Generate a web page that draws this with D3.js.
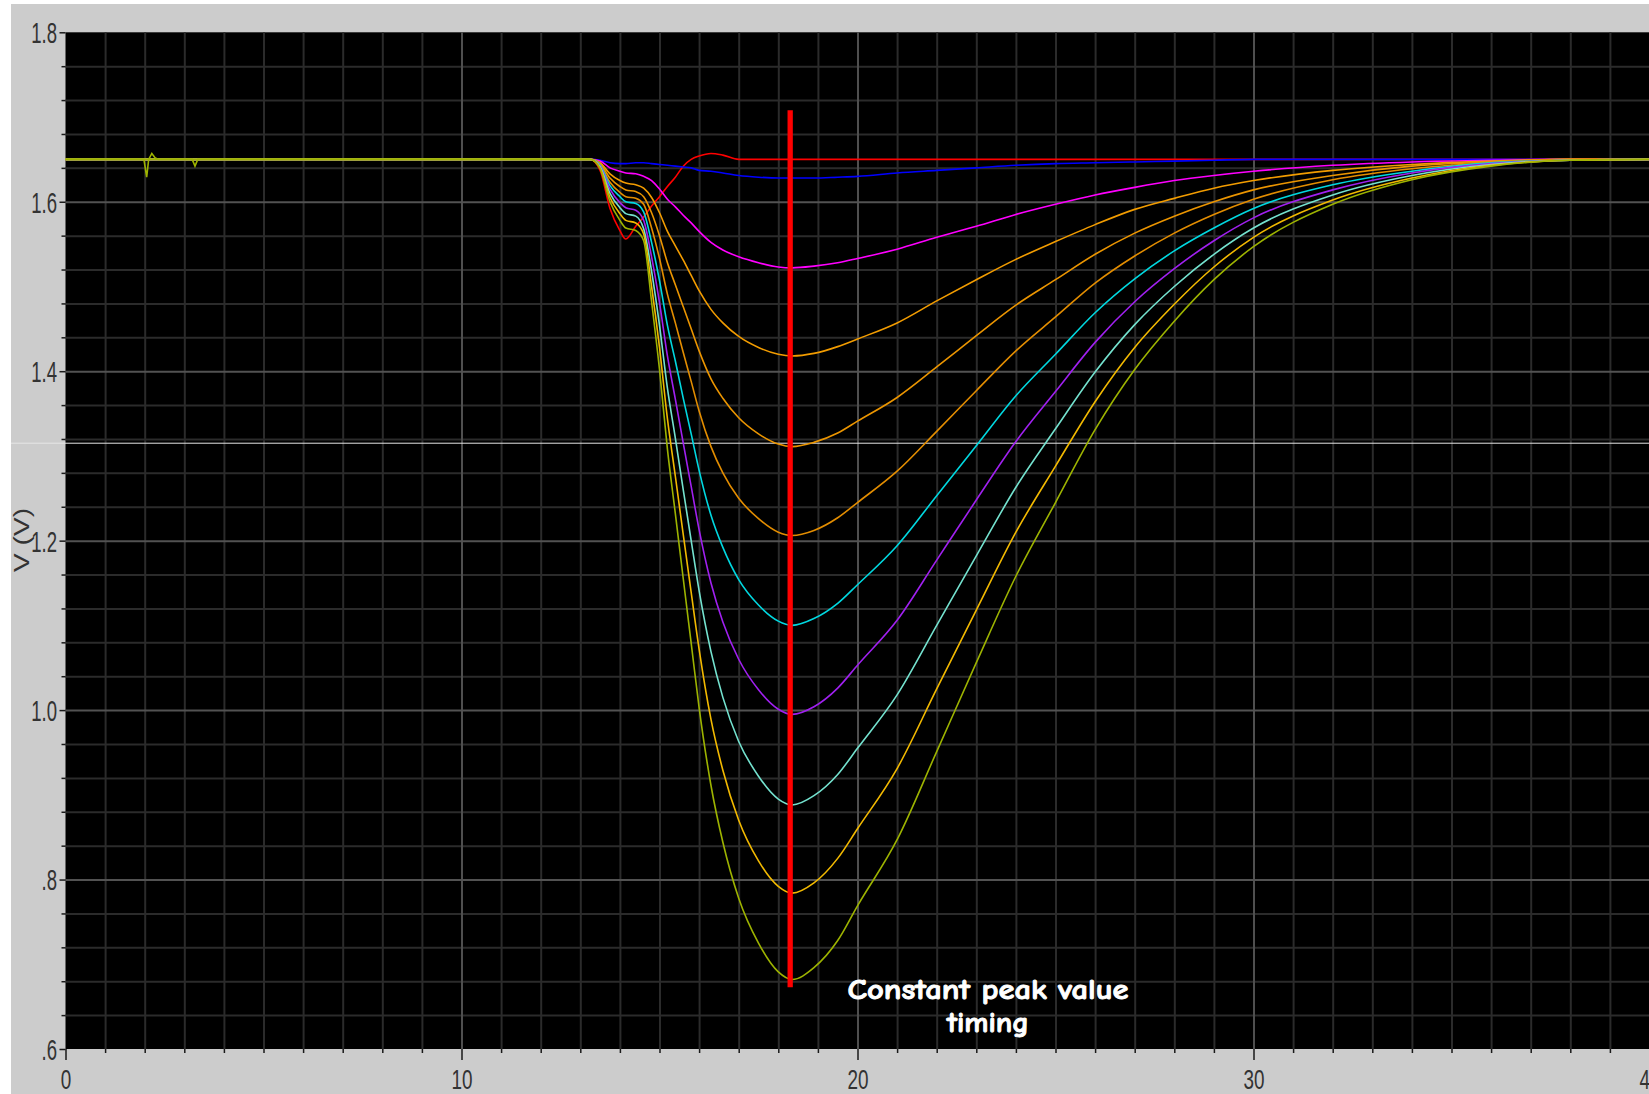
<!DOCTYPE html>
<meta charset="utf-8">
<style>
body { margin: 0; background: #fff; }
svg { display: block; }
.lbl { font-family: "Liberation Sans", Arial, sans-serif; fill: #333; }
</style>
<svg width="1649" height="1094"></svg>
<script src="https://d3js.org/d3.v7.min.js"></script>
<script>

// time axis (us) shared by the main curves
var timeUs = [0, 13.25, 13.5, 13.75, 14.0, 14.15, 14.4, 14.6, 14.8, 15.0, 15.2, 15.4, 15.6, 15.8,
  16.0, 16.3, 16.6, 17.0, 17.5, 18.0, 18.35, 18.9, 19.5, 20, 21, 22, 23, 24, 25, 26, 27, 28, 29, 30,
  32, 34, 36, 38, 40];

var redV = [1.65, 1.65, 1.637, 1.592, 1.566, 1.556, 1.571, 1.582, 1.595, 1.606, 1.618, 1.629, 1.642, 1.65,
  1.654, 1.657, 1.655, 1.65, 1.65, 1.65, 1.65, 1.65, 1.65, 1.65, 1.65, 1.65, 1.65, 1.65, 1.65, 1.65,
  1.65, 1.65, 1.65, 1.65, 1.65, 1.65, 1.65, 1.65, 1.65];
var blueV = [1.65, 1.65, 1.649, 1.646, 1.645, 1.645, 1.646, 1.646, 1.645, 1.644, 1.643, 1.642, 1.641, 1.640,
  1.637, 1.636, 1.634, 1.631, 1.629, 1.628, 1.628, 1.628, 1.629, 1.630, 1.634, 1.637, 1.640, 1.643, 1.645,
  1.646, 1.647, 1.648, 1.649, 1.650, 1.65, 1.65, 1.65, 1.65, 1.65];
var magentaV = [1.65, 1.65, 1.648, 1.640, 1.636, 1.634, 1.633, 1.630, 1.625, 1.615, 1.603, 1.594, 1.584, 1.575,
  1.565, 1.552, 1.543, 1.535, 1.528, 1.523, 1.522, 1.524, 1.528, 1.533, 1.544, 1.558, 1.571, 1.585, 1.597,
  1.608, 1.617, 1.625, 1.631, 1.636, 1.643, 1.647, 1.649, 1.65, 1.65];
var orange1V = [1.65, 1.65, 1.646, 1.633, 1.625, 1.622, 1.620, 1.616, 1.605, 1.587, 1.565, 1.548, 1.531, 1.513,
  1.495, 1.473, 1.457, 1.441, 1.428, 1.420, 1.418, 1.421, 1.429, 1.438, 1.457, 1.483, 1.508, 1.532, 1.553,
  1.573, 1.591, 1.604, 1.616, 1.625, 1.637, 1.644, 1.648, 1.65, 1.65];
var orange2V = [1.65, 1.65, 1.645, 1.628, 1.618, 1.614, 1.612, 1.606, 1.587, 1.560, 1.528, 1.502, 1.476, 1.450,
  1.424, 1.391, 1.368, 1.345, 1.326, 1.314, 1.311, 1.316, 1.327, 1.341, 1.369, 1.405, 1.442, 1.478, 1.508,
  1.538, 1.563, 1.583, 1.600, 1.614, 1.631, 1.642, 1.647, 1.65, 1.65];
var orange3V = [1.65, 1.65, 1.644, 1.623, 1.611, 1.606, 1.604, 1.597, 1.569, 1.533, 1.491, 1.457, 1.422, 1.388,
  1.353, 1.311, 1.280, 1.250, 1.226, 1.210, 1.206, 1.212, 1.227, 1.245, 1.282, 1.329, 1.377, 1.424, 1.464,
  1.504, 1.536, 1.563, 1.585, 1.603, 1.626, 1.639, 1.646, 1.65, 1.65];
var cyanV = [1.65, 1.65, 1.643, 1.619, 1.606, 1.600, 1.598, 1.588, 1.552, 1.507, 1.454, 1.412, 1.368, 1.326,
  1.283, 1.230, 1.192, 1.154, 1.124, 1.105, 1.100, 1.108, 1.126, 1.148, 1.194, 1.253, 1.312, 1.371, 1.420,
  1.469, 1.509, 1.542, 1.569, 1.592, 1.620, 1.636, 1.646, 1.649, 1.65];
var purpleV = [1.65, 1.65, 1.642, 1.615, 1.599, 1.593, 1.590, 1.578, 1.535, 1.481, 1.418, 1.367, 1.315, 1.264,
  1.213, 1.150, 1.104, 1.060, 1.024, 1.001, 0.995, 1.004, 1.026, 1.053, 1.106, 1.177, 1.248, 1.317, 1.376,
  1.434, 1.482, 1.521, 1.554, 1.581, 1.614, 1.634, 1.645, 1.649, 1.65];
var tealV = [1.65, 1.65, 1.641, 1.610, 1.593, 1.586, 1.583, 1.568, 1.518, 1.454, 1.380, 1.321, 1.260, 1.200,
  1.141, 1.069, 1.015, 0.963, 0.922, 0.895, 0.888, 0.899, 0.924, 0.955, 1.018, 1.100, 1.182, 1.263, 1.332,
  1.399, 1.455, 1.500, 1.538, 1.569, 1.608, 1.631, 1.644, 1.649, 1.65];
var goldV = [1.65, 1.65, 1.640, 1.605, 1.586, 1.578, 1.575, 1.562, 1.500, 1.428, 1.344, 1.276, 1.207, 1.139,
  1.072, 0.989, 0.929, 0.870, 0.822, 0.792, 0.784, 0.796, 0.825, 0.860, 0.931, 1.025, 1.118, 1.210, 1.288,
  1.364, 1.428, 1.479, 1.523, 1.558, 1.602, 1.628, 1.643, 1.649, 1.65];
var oliveV = [1.65, 1.65, 1.639, 1.600, 1.578, 1.569, 1.566, 1.554, 1.482, 1.402, 1.308, 1.232, 1.155, 1.079,
  1.003, 0.911, 0.844, 0.778, 0.725, 0.691, 0.682, 0.696, 0.728, 0.769, 0.847, 0.951, 1.056, 1.158, 1.245,
  1.331, 1.402, 1.459, 1.508, 1.547, 1.597, 1.626, 1.642, 1.649, 1.65];

// small glitches on the flat start of the top trace
var startT = [0, 1.98, 2.05, 2.1, 2.18, 2.26, 2.34, 3.2, 3.27, 3.34, 13.25];
var startV = [1.65, 1.65, 1.629, 1.65, 1.657, 1.652, 1.65, 1.65, 1.642, 1.65, 1.65];

var seriesValues = [redV, blueV, magentaV, orange1V, orange2V, orange3V, cyanV, purpleV, tealV, goldV, oliveV];
var seriesColors = ["#ff0000", "#0000ff", "#ff00ff", "#f29c00", "#eb9500", "#e38d00", "#00d8e0",
  "#a020f0", "#74e2cf", "#f2b900", "#9db300"];

var xMajor = [0, 10, 20, 30, 40];
var xLabels = ["0", "10", "20", "30", "40"];
var yMajor = [0.6, 0.8, 1.0, 1.2, 1.4, 1.6, 1.8];
var yLabels = [".6", ".8", "1.0", "1.2", "1.4", "1.6", "1.8"];

var markerT = 18.3, markerTop = 1.708, markerBottom = 0.673;
var scanLineV = 1.315;

var svg = d3.select("svg"),
    width = +svg.attr("width"),
    height = +svg.attr("height");

var x = d3.scaleLinear().domain([0, 40]).range([65.5, 1649.5]);
var y = d3.scaleLinear().domain([0.6, 1.8]).range([1049, 32.3]);
var plotH = y(0.6) - y(1.8), plotW = x(40) - x(0);

var xMinor = d3.range(1, 40).filter(function(d) { return d % 10 != 0; });
var yMinor = d3.range(1, 30).filter(function(i) { return i % 5 != 0; }).map(function(i) { return 0.6 + i * 0.04; });

// backgrounds
svg.append("rect").attr("x", 11).attr("y", 4).attr("width", width - 11).attr("height", height - 4).attr("fill", "#cccccc");
svg.append("rect").attr("x", x(0)).attr("y", y(1.8)).attr("width", plotW).attr("height", plotH).attr("fill", "#000");

// grid
function grid(axis, cls, color) {
  var g = svg.append("g").attr("class", cls).call(axis);
  g.select(".domain").remove();
  g.selectAll("line").attr("stroke", color).attr("stroke-width", 2);
  return g;
}
grid(d3.axisBottom(x).tickValues(xMinor).tickSize(-plotH).tickFormat(""), "gx", "#2b2b2b")
  .attr("transform", "translate(0," + y(0.6) + ")");
grid(d3.axisLeft(y).tickValues(yMinor).tickSize(-plotW).tickFormat(""), "gy", "#2b2b2b")
  .attr("transform", "translate(" + x(0) + ",0)");
grid(d3.axisBottom(x).tickValues([10, 20, 30]).tickSize(-plotH).tickFormat(""), "gx2", "#4f4f4f")
  .attr("transform", "translate(0," + y(0.6) + ")");
grid(d3.axisLeft(y).tickValues([0.8, 1.0, 1.2, 1.4, 1.6]).tickSize(-plotW).tickFormat(""), "gy2", "#525252")
  .attr("transform", "translate(" + x(0) + ",0)");

// tick marks outside the plot
function ticks(axis, tr) {
  var g = svg.append("g").attr("transform", tr).call(axis);
  g.select(".domain").remove();
  g.selectAll("line").attr("stroke", "#1a1a1a").attr("stroke-width", 1.5);
  return g;
}
ticks(d3.axisBottom(x).tickValues(xMinor).tickSize(4).tickFormat(""), "translate(0," + y(0.6) + ")");
ticks(d3.axisLeft(y).tickValues(yMinor).tickSize(4).tickFormat(""), "translate(" + x(0) + ",0)");

var xa = ticks(d3.axisBottom(x).tickValues(xMajor).tickSize(11)
    .tickFormat(function(d, i) { return xLabels[i]; }), "translate(0," + y(0.6) + ")");
xa.selectAll("text").attr("class", "lbl").attr("y", null).attr("dy", null)
  .attr("font-size", 27).attr("text-anchor", "middle")
  .attr("transform", "translate(0,39.5) scale(0.7,1)");

var ya = ticks(d3.axisLeft(y).tickValues(yMajor).tickSize(6)
    .tickFormat(function(d, i) { return yLabels[i]; }), "translate(" + x(0) + ",0)");
ya.selectAll("text").attr("class", "lbl").attr("x", 0).attr("dy", "0.36em")
  .attr("font-size", 29).attr("text-anchor", "end")
  .attr("transform", "translate(-8.5,0) scale(0.64,1)");

svg.append("text").attr("class", "lbl")
  .attr("transform", "translate(21,540) rotate(-90)")
  .attr("text-anchor", "middle").attr("dy", "0.35em")
  .attr("font-size", 22).attr("textLength", 64).attr("lengthAdjust", "spacingAndGlyphs")
  .text("V (V)");

// light scan line across the picture
svg.append("line").attr("x1", 11).attr("x2", width).attr("y1", y(scanLineV)).attr("y2", y(scanLineV))
  .attr("stroke", "#e6e6e6").attr("stroke-width", 1);

// traces
var line = d3.line()
  .x(function(d) { return x(d[0]); })
  .y(function(d) { return y(d[1]); })
  .curve(d3.curveMonotoneX);

var traces = svg.append("g").attr("class", "traces");
seriesValues.forEach(function(vals, k) {
  var pts = timeUs.map(function(t, i) { return [t, vals[i]]; });
  traces.append("path").datum(pts)
    .attr("d", line)
    .attr("fill", "none")
    .attr("stroke", seriesColors[k])
    .attr("stroke-width", 1.6);
});
traces.append("path")
  .datum(startT.map(function(t, i) { return [t, startV[i]]; }))
  .attr("d", line.curve(d3.curveLinear))
  .attr("fill", "none")
  .attr("stroke", seriesColors[seriesColors.length - 1])
  .attr("stroke-width", 1.6);

// marker
svg.append("line")
  .attr("x1", x(markerT)).attr("x2", x(markerT))
  .attr("y1", y(markerTop)).attr("y2", y(markerBottom))
  .attr("stroke", "#ff0000").attr("stroke-width", 5.3);

var note = svg.append("g").attr("font-family", "'Comic Sans MS', 'Comic Neue', Lato, sans-serif")
  .attr("font-weight", "bold").attr("font-size", 28).attr("fill", "#fff")
  .attr("stroke", "#fff").attr("stroke-width", 0.9).attr("text-anchor", "middle");
note.append("text").attr("x", 988).attr("y", 999)
  .attr("textLength", 281).attr("lengthAdjust", "spacingAndGlyphs").text("Constant peak value");
note.append("text").attr("x", 988).attr("y", 1032)
  .attr("textLength", 82).attr("lengthAdjust", "spacingAndGlyphs").text("timing");

</script>
